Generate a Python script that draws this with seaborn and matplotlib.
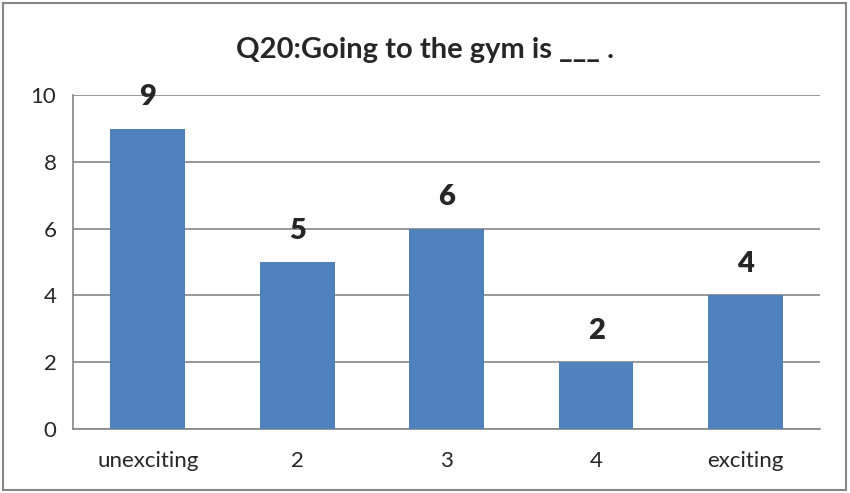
import pandas as pd
import matplotlib.pyplot as plt
import seaborn as sns
from matplotlib.patches import Rectangle

# Data
categories = ['unexciting', '2', '3', '4', 'exciting']
counts = [9, 5, 6, 2, 4]
df = pd.DataFrame({'answer': categories, 'count': counts})

sns.set_style("white")
plt.rcParams['font.family'] = ['Lato', 'DejaVu Sans']

fig = plt.figure(figsize=(8.5, 4.93), dpi=100)
ax = fig.add_axes([0.086, 0.130, 0.879, 0.677])

grid_col = '#868686'
sns.barplot(x='answer', y='count', data=df, color='#4F81BD', width=0.5,
            saturation=1, linewidth=0, ax=ax, zorder=3)

ax.set_ylim(0, 10)
ax.set_yticks(range(0, 11, 2))
ax.set_xlim(-0.5, len(categories) - 0.5)
ax.yaxis.grid(True, color=grid_col, linewidth=1.2, zorder=0)
ax.set_axisbelow(True)

for side in ['top', 'right']:
    ax.spines[side].set_visible(False)
for side in ['left', 'bottom']:
    ax.spines[side].set_color(grid_col)
    ax.spines[side].set_linewidth(1.2)

# x ticks at category boundaries, labels centered
ax.set_xticks([i - 0.5 for i in range(len(categories) + 1)], minor=False)
ax.set_xticklabels([])
ax.set_xticks(range(len(categories)), minor=True)
ax.set_xticklabels(categories, minor=True)
ax.tick_params(axis='x', which='major', direction='out', length=6, color=grid_col, width=1.2)
ax.tick_params(axis='x', which='minor', length=0, labelsize=16, pad=16)
ax.tick_params(axis='y', direction='out', length=6, color=grid_col, width=1.2, labelsize=16, pad=6)

ax.set_xlabel('')
ax.set_ylabel('')

for i, v in enumerate(counts):
    ax.text(i, v + 0.55, str(v), ha='center', va='bottom', fontsize=21, fontweight='heavy')

fig.suptitle('Q20:Going to the gym is ___ .', fontsize=21, fontweight='bold', y=0.925)

# outer chart border
fig.patches.append(Rectangle((0.004, 0.006), 0.991, 0.988, transform=fig.transFigure,
                             fill=False, edgecolor=grid_col, linewidth=1.5))

fig.savefig('out.png', dpi=100)
